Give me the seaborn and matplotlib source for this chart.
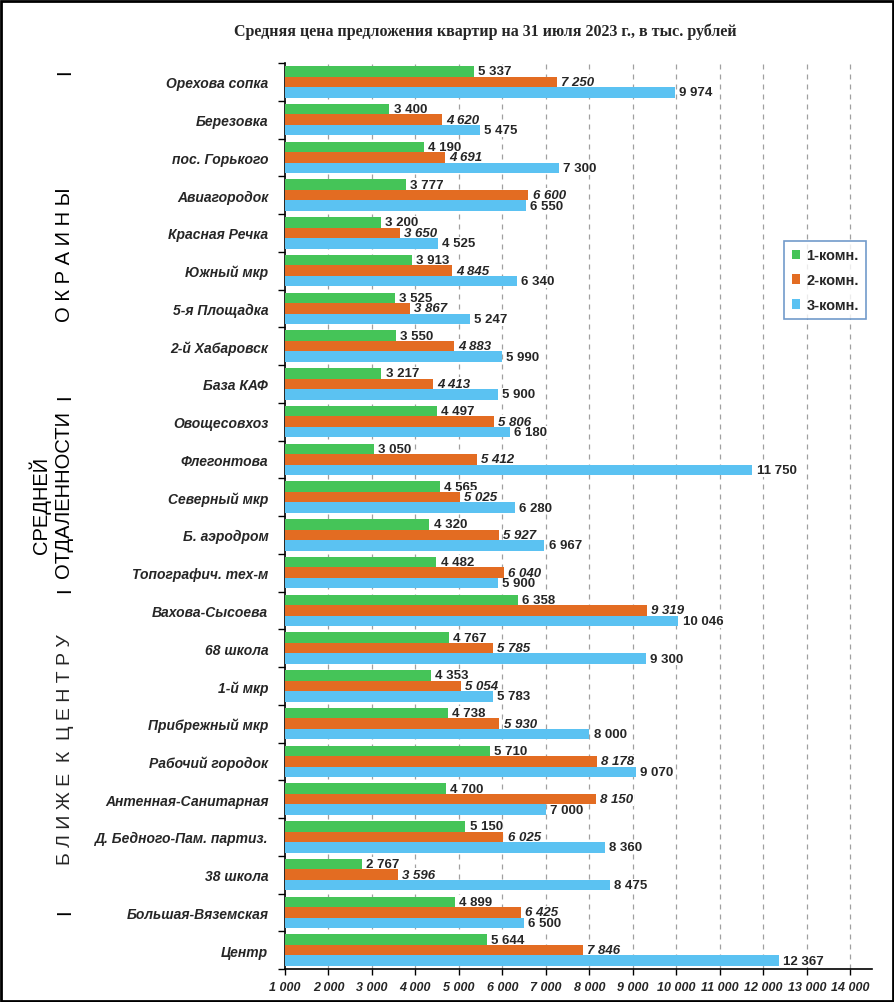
import numpy as np
import pandas as pd
import matplotlib.pyplot as plt
import seaborn as sns
from matplotlib.patches import Rectangle

# Данные
districts = ['Орехова сопка', 'Березовка', 'пос. Горького', 'Авиагородок', 'Красная Речка',
             'Южный мкр', '5-я Площадка', '2-й Хабаровск', 'База КАФ', 'Овощесовхоз',
             'Флегонтова', 'Северный мкр', 'Б. аэродром', 'Топографич. тех-м', 'Вахова-Сысоева',
             '68 школа', '1-й мкр', 'Прибрежный мкр', 'Рабочий городок', 'Антенная-Санитарная',
             'Д. Бедного-Пам. партиз.', '38 школа', 'Большая-Вяземская', 'Центр']
room1 = [5337, 3400, 4190, 3777, 3200, 3913, 3525, 3550, 3217, 4497, 3050, 4565, 4320, 4482,
         6358, 4767, 4353, 4738, 5710, 4700, 5150, 2767, 4899, 5644]
room2 = [7250, 4620, 4691, 6600, 3650, 4845, 3867, 4883, 4413, 5806, 5412, 5025, 5927, 6040,
         9319, 5785, 5054, 5930, 8178, 8150, 6025, 3596, 6425, 7846]
room3 = [9974, 5475, 7300, 6550, 4525, 6340, 5247, 5990, 5900, 6180, 11750, 6280, 6967, 5900,
         10046, 9300, 5783, 8000, 9070, 7000, 8360, 8475, 6500, 12367]
series = ['1-комн.', '2-комн.', '3-комн.']
colors = ['#45C458', '#E36C22', '#5BC2F2']
x_ticks = list(range(1000, 15000, 1000))

df = pd.DataFrame({'Район': districts * 3,
                   'Тип': np.repeat(series, len(districts)),
                   'Цена': room1 + room2 + room3})

sns.set_style('white')
plt.rcParams['font.family'] = ['Liberation Sans', 'DejaVu Sans']

fig = plt.figure(figsize=(8.95, 10.03), dpi=100)
ax = fig.add_axes([285 / 895, 1 - 970 / 1003, (872 - 285) / 895, (970 - 64) / 1003])

sns.barplot(data=df, y='Район', x='Цена', hue='Тип', order=districts, hue_order=series,
            palette=colors, width=0.84, orient='h', saturation=1, linewidth=0,
            ax=ax, zorder=3)

ax.set_xlim(1000, 14500)
ax.set_ylim(len(districts) - 0.5, -0.5)
ax.set_xticks(x_ticks)
ax.set_xticklabels([f'{t:,}'.replace(',', ' ') for t in x_ticks],
                   fontsize=9, fontweight='bold', fontstyle='italic')
ax.set_yticklabels(districts, fontsize=10, fontweight='bold', fontstyle='italic')
ax.tick_params(axis='y', which='major', length=0, pad=12)
ax.set_yticks(np.arange(-0.5, len(districts), 1), minor=True)
ax.tick_params(axis='y', which='minor', length=5, width=1, color='black', left=True)
ax.tick_params(axis='x', length=4, width=1, color='black', bottom=True, pad=5)
ax.set_xlabel('')
ax.set_ylabel('')

# Сетка
for t in x_ticks[1:]:
    ax.axvline(t, color='#A0A0A0', lw=0.9, ls=(0, (4, 4)), zorder=0)

for s in ['top', 'right']:
    ax.spines[s].set_visible(False)
for s in ['left', 'bottom']:
    ax.spines[s].set_color('black')
    ax.spines[s].set_linewidth(1.2)

# Подписи значений (под столбцами по z, чтобы белая подложка закрывала только сетку)
styles = ['normal', 'italic', 'normal']
for cont, st in zip(ax.containers, styles):
    labels = [f'{int(b.get_width()):,}'.replace(',', ' ') for b in cont]
    texts = ax.bar_label(cont, labels=labels, padding=3, fontsize=9.5, fontweight='bold',
                         fontstyle=st)
    for t in texts:
        t.set_bbox(dict(facecolor='white', edgecolor='none', pad=0.5))
        t.set_zorder(1)

# Легенда
leg = ax.legend(loc='upper right', bbox_to_anchor=(866 / 895, 1 - 242 / 1003),
                bbox_transform=fig.transFigure, frameon=True, fancybox=False,
                handlelength=0.6, handleheight=0.6, handletextpad=0.4,
                labelspacing=0.75, borderpad=0.5, borderaxespad=0,
                prop={'weight': 'bold', 'size': 10.5})
leg.get_frame().set_edgecolor('#4F81BD')
leg.get_frame().set_linewidth(1.2)
leg.set_zorder(5)

# Заголовок
fig.text(485 / 895, 1 - 32 / 1003,
         'Средняя цена предложения квартир на 31 июля 2023 г., в тыс. рублей',
         ha='center', va='center', fontsize=11.5, fontweight='bold',
         family=['Liberation Serif', 'DejaVu Serif'])

# Группы районов слева
side = dict(rotation=90, ha='center', va='center', fontsize=14.5, color='black')
for yy in [72, 397, 590, 912]:
    fig.text(65 / 895, 1 - yy / 1003, 'I', **side)
fig.text(65 / 895, 1 - 255 / 1003, 'О К Р А И Н Ы', **side)
fig.text(40 / 895, 1 - 505 / 1003, 'СРЕДНЕЙ', **side)
fig.text(64 / 895, 1 - 495 / 1003, 'ОТДАЛЕННОСТИ', **side)
fig.text(65 / 895, 1 - 750 / 1003, 'Б Л И Ж Е  К  Ц Е Н Т Р У', fontsize=14, rotation=90,
         ha='center', va='center')

# Рамка
fig.patches.append(Rectangle((0.001, 0.001), 0.997, 0.997, transform=fig.transFigure,
                             fill=False, edgecolor='black', linewidth=2))

plt.savefig('out.png', dpi=100)
